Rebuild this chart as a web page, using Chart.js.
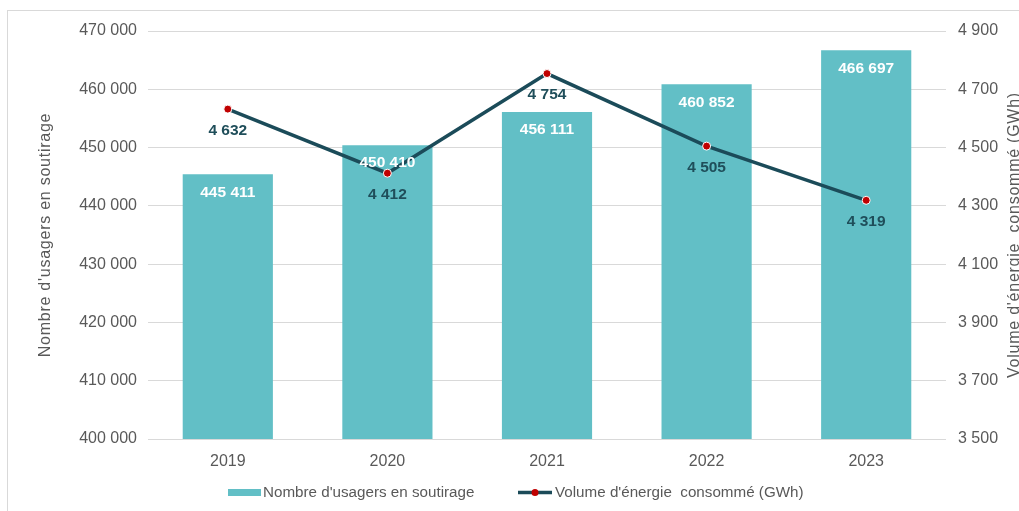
<!DOCTYPE html>
<html><head><meta charset="utf-8">
<script src="https://cdn.jsdelivr.net/npm/chart.js@4"></script>
<style>
html,body{margin:0;padding:0;background:#fff;}
#wrap{position:relative;width:1019px;height:511px;overflow:hidden;}
#frame{position:absolute;left:7px;top:10px;width:1100px;height:600px;border:1px solid #d9d9d9;box-sizing:border-box;}
canvas{position:absolute;left:0;top:0;}
</style></head>
<body><div id="wrap"><div id="frame"></div><canvas id="c" width="1019" height="511"></canvas></div>
<script>
const categories = ['2019', '2020', '2021', '2022', '2023'];
const usagers = [445411, 450410, 456111, 460852, 466697];
const energie = [4632, 4412, 4754, 4505, 4319];
const leftAxis = { min: 400000, max: 470000, step: 10000 };
const rightAxis = { min: 3500, max: 4900, step: 200 };
const seriesNames = ["Nombre d'usagers en soutirage", "Volume d'énergie  consommé (GWh)"];
const leftTitle = "Nombre d'usagers en soutirage";
const rightTitle = "Volume d'énergie  consommé (GWh)";

const FONT = "'Liberation Sans', Arial, sans-serif";
const GREY = '#595959';
const BAR = '#62bfc6';
const LINE = '#1b4b59';
const DOT = '#c00000';
const fmt = v => String(Math.round(v)).replace(/\B(?=(\d{3})+(?!\d))/g, ' ');

const extras = {
  id: 'extras',
  afterDatasetsDraw(chart) {
    const ctx = chart.ctx;
    ctx.save();
    ctx.textAlign = 'center';
    ctx.textBaseline = 'middle';
    ctx.font = 'bold 15.5px ' + FONT;
    const mb = chart.getDatasetMeta(0);
    mb.data.forEach((b, i) => {
      ctx.fillStyle = '#ffffff';
      ctx.fillText(fmt(usagers[i]), b.x, b.y + 18);
    });
    const ml = chart.getDatasetMeta(1);
    ml.data.forEach((p, i) => {
      ctx.fillStyle = '#1f4e5a';
      ctx.fillText(fmt(energie[i]), p.x, p.y + 21.5);
    });
    ctx.restore();
  },
  afterDraw(chart) {
    const ctx = chart.ctx;
    const a = chart.chartArea;
    const cy = (a.top + a.bottom) / 2;
    ctx.save();
    ctx.fillStyle = GREY;
    ctx.font = '16px ' + FONT;
    ctx.textAlign = 'center';
    ctx.textBaseline = 'middle';
    ctx.letterSpacing = '0.75px';
    ctx.save();
    ctx.translate(46, cy);
    ctx.rotate(-Math.PI / 2);
    ctx.fillText(leftTitle, 0, 0);
    ctx.restore();
    ctx.save();
    ctx.translate(1015, cy);
    ctx.rotate(-Math.PI / 2);
    ctx.fillText(rightTitle, 0, 0);
    ctx.restore();
    ctx.letterSpacing = '0px';
    // legend
    const ly = 492.5;
    ctx.font = '15.2px ' + FONT;
    ctx.textAlign = 'left';
    ctx.fillStyle = BAR;
    ctx.fillRect(228, ly - 3.5, 33, 7);
    ctx.fillStyle = GREY;
    ctx.fillText(seriesNames[0], 263, ly);
    ctx.strokeStyle = LINE;
    ctx.lineWidth = 3.5;
    ctx.beginPath();
    ctx.moveTo(518, ly);
    ctx.lineTo(552, ly);
    ctx.stroke();
    ctx.fillStyle = DOT;
    ctx.beginPath();
    ctx.arc(535, ly, 3.5, 0, Math.PI * 2);
    ctx.fill();
    ctx.fillStyle = GREY;
    ctx.fillText(seriesNames[1], 555, ly);
    ctx.restore();
  }
};

new Chart(document.getElementById('c'), {
  data: {
    labels: categories,
    datasets: [
      { type: 'bar', label: seriesNames[0], data: usagers, yAxisID: 'y', backgroundColor: BAR,
        barPercentage: 0.565, categoryPercentage: 1, order: 2 },
      { type: 'line', label: seriesNames[1], data: energie, yAxisID: 'y1', borderColor: LINE,
        borderWidth: 3.5, tension: 0, pointRadius: 4, pointBackgroundColor: DOT,
        pointBorderColor: '#ffffff', pointBorderWidth: 1, order: 1 }
    ]
  },
  options: {
    responsive: false,
    devicePixelRatio: 1,
    animation: false,
    layout: { padding: { top: 31, bottom: 30, left: 0, right: 0 } },
    plugins: { legend: { display: false }, tooltip: { enabled: false } },
    scales: {
      x: {
        grid: { display: false },
        border: { display: false },
        ticks: { color: GREY, font: { family: FONT, size: 16 }, padding: 5 },
        afterFit: s => { s.height = 42; }
      },
      y: {
        position: 'left',
        min: leftAxis.min, max: leftAxis.max,
        ticks: { stepSize: leftAxis.step, color: GREY, font: { family: FONT, size: 16 }, padding: 11, callback: v => fmt(v) },
        grid: { color: '#d9d9d9', lineWidth: 1, drawTicks: false },
        border: { display: false },
        afterFit: s => { s.width = 148; }
      },
      y1: {
        position: 'right',
        min: rightAxis.min, max: rightAxis.max,
        ticks: { stepSize: rightAxis.step, color: GREY, font: { family: FONT, size: 16 }, padding: 12, callback: v => fmt(v) },
        grid: { display: false, drawTicks: false },
        border: { display: false },
        afterFit: s => { s.width = 73; }
      }
    }
  },
  plugins: [extras]
});
</script>
</body></html>
